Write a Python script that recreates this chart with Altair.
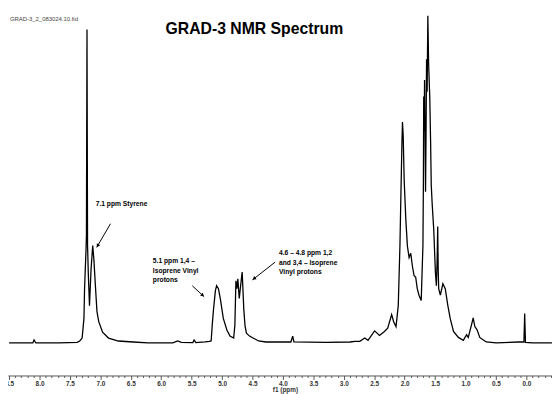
import altair as alt
import pandas as pd

# ---- spectrum (ppm, relative intensity) ----
ppm = [8.50, 8.11, 8.09, 8.06, 7.68, 7.38, 7.34, 7.30, 7.27, 7.26, 7.234, 7.229, 7.220, 7.211,
       7.198, 7.179, 7.153, 7.126, 7.105, 7.082, 7.056, 7.028, 6.964, 6.866, 6.704, 6.46, 6.22,
       5.81, 5.73, 5.67, 5.48, 5.46, 5.43, 5.28, 5.21, 5.18, 5.16, 5.14, 5.11, 5.09, 5.06, 5.03,
       4.98, 4.92, 4.87, 4.81, 4.79, 4.773, 4.757, 4.741, 4.718, 4.692, 4.670, 4.644, 4.624, 4.60,
       4.55, 4.46, 4.40, 4.28, 4.11, 3.87, 3.84, 3.82, 3.30, 2.899, 2.818, 2.737, 2.656, 2.602,
       2.494, 2.413, 2.332, 2.279, 2.214, 2.181, 2.142, 2.105, 2.078, 2.057, 2.044, 2.036, 2.024,
       2.008, 1.981, 1.955, 1.927, 1.900, 1.874, 1.846, 1.819, 1.793, 1.765, 1.728, 1.712, 1.700,
       1.692, 1.687, 1.679, 1.673, 1.665, 1.657, 1.647, 1.640, 1.631, 1.619, 1.607, 1.587, 1.574,
       1.563, 1.547, 1.522, 1.495, 1.479, 1.466, 1.457, 1.449, 1.441, 1.414, 1.372, 1.333, 1.291,
       1.252, 1.198, 1.117, 1.036, 0.983, 0.955, 0.902, 0.874, 0.847, 0.810, 0.766, 0.713, 0.659,
       0.497, 0.118, 0.040, 0.028, 0.015, -0.10, -0.42]
intensity = [0, 0, 0.9, 0, 0, 0.2, 0.6, 1.5, 7.5, 16.6, 29.5, 33, 95.8, 30,
             21, 11.4, 22.6, 29.8, 25, 17.5, 9.6, 6.6, 3.3, 1.5, 0.6, 0.3, 0,
             0, 0.6, 0.2, 0.1, 0.9, 0.1, 0.3, 0.5, 0.6, 6, 10.5, 16, 17.5, 16.6, 13.6,
             7.5, 3.9, 2.1, 1.5, 5.4, 19.0, 16.6, 19.6, 13.6, 18.1, 21.7, 10.5, 5.4, 3.0,
             2.1, 1.2, 0.6, 0.3, 0.3, 0.3, 2.1, 0.3, 0.2, 0.3, 0.5, 0.5, 1.5, 0.8,
             3.7, 2.3, 3.5, 4.5, 8.7, 6.5, 5.0, 11.5, 29.6, 49.7, 61.7, 67.5, 63.3,
             49.7, 37.7, 29.6, 26.1, 27.4, 23.6, 20.6, 20.1, 16.6, 14.6, 13.0, 22.6, 29.6,
             49.7, 75.3, 64.8, 80.4, 61.7, 46.2, 67.8, 86.7, 76.8, 100, 85.8, 74.7, 61.7,
             48.2, 42.2, 34.6, 21.6, 17.5, 25.6, 35.6, 22.6, 16.6, 14.6, 18.1, 16.6, 11.5,
             7.5, 3.5, 1.7, 0.8, 2.5, 1.7, 5.5, 7.7, 5.0, 4.0, 1.7, 1.0, 0.3,
             0, 0.3, 0.3, 9.0, 0.2, 0, 0]

tick_values = [round(-0.4 + 0.1 * i, 1) for i in range(90)]

title_text = "GRAD-3 NMR Spectrum"
file_text = "GRAD-3_2_083024.10.fid"
note_styrene = ["7.1 ppm Styrene"]
note_14 = ["5.1 ppm 1,4 \u2013", "Isoprene Vinyl", "protons"]
note_12 = ["4.6 \u2013 4.8 ppm 1,2", "and 3,4 \u2013 Isoprene", "Vinyl protons"]

df = pd.DataFrame({"ppm": ppm, "intensity": intensity})
one = alt.Data(values=[{}])
FONT = "Liberation Sans"

x_scale = alt.Scale(domain=[-0.421, 8.518], reverse=True, nice=False, zero=False)
y_scale = alt.Scale(domain=[-9.94, 101.5], nice=False, zero=False)

spectrum = alt.Chart(df).mark_line(color="black", strokeWidth=1.3, clip=True).encode(
    x=alt.X("ppm:Q", scale=x_scale,
            axis=alt.Axis(values=tick_values,
                          labelExpr="abs(round(datum.value*10) % 5) < 0.01 ? format(datum.value, '.1f') : ''",
                          tickSize={"condition": {"test": "abs(round(datum.value*10) % 5) < 0.01", "value": 4}, "value": 2},
                          labelOverlap=False, labelFlush=False, grid=False,
                          labelFont=FONT, labelFontSize=6.5, labelFontWeight="bold", labelColor="#333",
                          labelPadding=1, domainColor="#555", tickColor="#555",
                          title="f1 (ppm)", titleFont=FONT, titleFontSize=6.5, titleFontWeight="bold",
                          titleColor="#333", titleX=281, titleY=11, titleBaseline="top")),
    y=alt.Y("intensity:Q", scale=y_scale, axis=None),
    order=alt.Order("ppm:Q"),
)

def text_layer(txt, x, y, size, weight="bold", color="black", align="left", lh=9.5):
    return alt.Chart(one).mark_text(font=FONT, fontSize=size, fontWeight=weight, color=color,
                                    align=align, baseline="middle", lineHeight=lh).encode(
        x=alt.value(x), y=alt.value(y), text=alt.value(txt))

def arrow(x1, y1, x2, y2, hx, hy, ang):
    line = alt.Chart(one).mark_rule(color="black", strokeWidth=1).encode(
        x=alt.value(x1), y=alt.value(y1), x2=alt.value(x2), y2=alt.value(y2))
    head = alt.Chart(one).mark_point(shape="triangle-up", filled=True, size=16, angle=ang,
                                     color="black", opacity=1).encode(x=alt.value(hx), y=alt.value(hy))
    return line + head

layers = [
    spectrum,
    text_layer(title_text, 250, 18, 16, align="center"),
    text_layer(file_text, 2, 8, 6, weight="normal", color="#444"),
    text_layer(note_styrene, 89, 196, 6.8),
    text_layer(note_14, 147, 254, 6.8),
    text_layer(note_12, 275, 246, 6.8),
    arrow(104, 216, 90, 240, 91, 238.3, 210),
    arrow(187, 279, 199, 290, 197.5, 288.7, 137),
    arrow(271, 255, 248, 273, 249.6, 271.8, 232),
]

chart = alt.layer(*layers).properties(
    width=552, height=370,
    autosize=alt.AutoSizeParams(type="none"),
    padding={"left": 0, "right": 0, "top": 0, "bottom": 24},
).configure_view(stroke=None)

chart.save("out.html", embed_options={"renderer": "svg", "actions": False})
